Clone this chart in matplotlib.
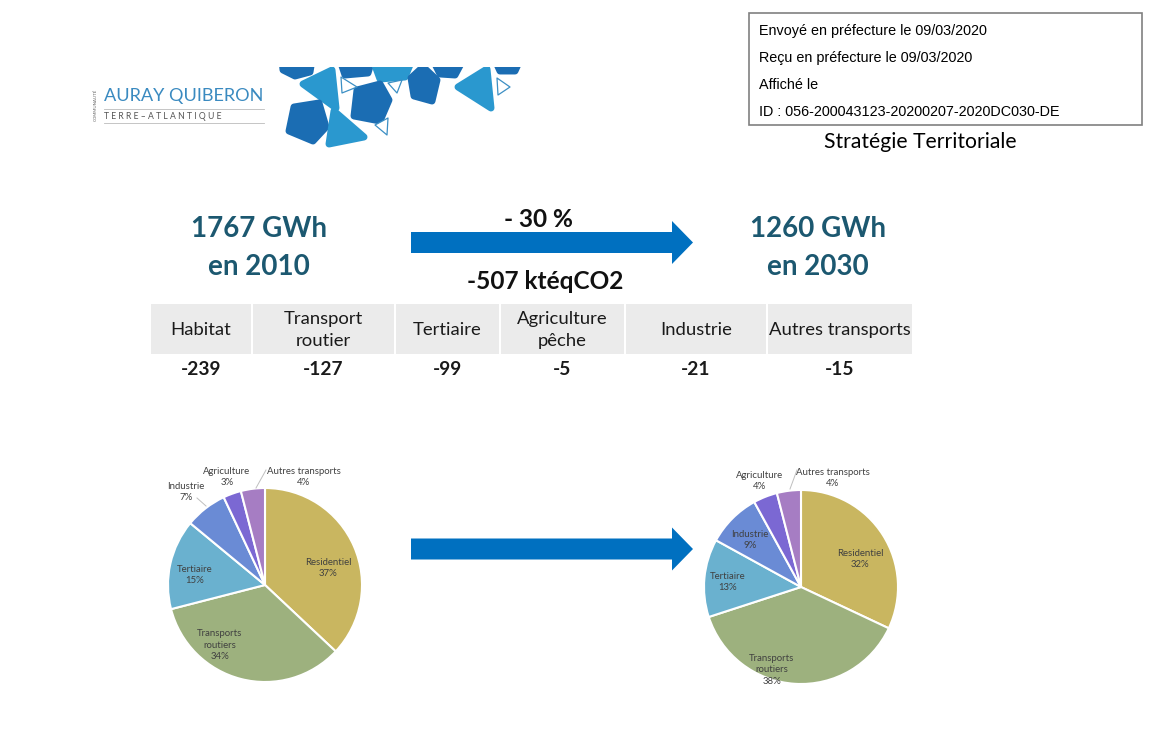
import numpy as np
import matplotlib
matplotlib.use("Agg")
import matplotlib.pyplot as plt
from matplotlib.patches import Polygon, Rectangle, FancyArrow

W, H = 1159, 729

# ---- data ----
sectors = ["Habitat", "Transport\nroutier", "Tertiaire", "Agriculture\npêche",
           "Industrie", "Autres transports"]
reductions = [-239, -127, -99, -5, -21, -15]

pie_labels = ["Residentiel", "Transports\nroutiers", "Tertiaire", "Industrie",
              "Agriculture", "Autres transports"]
share_2010 = [37, 34, 15, 7, 3, 4]
share_2030 = [32, 38, 13, 9, 4, 4]
pie_colors = ["#C9B660", "#9DB17E", "#6AB1CF", "#6A8BD5", "#7B68D3", "#A67DC3"]

conso_2010, conso_2030 = 1767, 1260
baisse_pct = -30
baisse_co2 = -507

TITLE = "#1C5870"
BLUE = "#0070C0"
FONT = "Lato"

fig = plt.figure(figsize=(W / 100, H / 100), dpi=100)
ax = fig.add_axes([0, 0, 1, 1])
ax.set_xlim(0, W)
ax.set_ylim(H, 0)
ax.axis("off")

# ---- logo ----
dark, light = "#1B6DB3", "#2A98CF"
shapes = [
    (dark, [(282, 60), (312, 60), (310, 72), (295, 76), (283, 70)]),
    (light, [(303, 84), (332, 70), (336, 108)]),
    (dark, [(340, 60), (372, 60), (368, 73), (345, 75)]),
    (light, [(373, 60), (412, 60), (405, 77), (380, 79)]),
    (dark, [(357, 90), (380, 84), (389, 100), (380, 121), (354, 116)]),
    (dark, [(411, 78), (423, 67), (437, 80), (432, 101), (414, 96)]),
    (dark, [(433, 60), (463, 60), (455, 75), (440, 74)]),
    (light, [(458, 87), (487, 69), (491, 108)]),
    (dark, [(495, 60), (520, 60), (515, 71), (500, 71)]),
    (dark, [(294, 107), (319, 103), (326, 127), (313, 141), (289, 131)]),
    (light, [(334, 111), (364, 137), (329, 144)]),
]
for col, pts in shapes:
    ax.add_patch(Polygon(pts, closed=True, facecolor=col, edgecolor=col,
                         linewidth=5, joinstyle="round"))
outlines = [
    [(341, 77), (357, 87), (342, 93)],
    [(388, 83), (402, 80), (397, 93)],
    [(497, 78), (510, 87), (498, 95)],
    [(375, 125), (388, 118), (387, 135)],
]
for pts in outlines:
    ax.add_patch(Polygon(pts, closed=True, facecolor="white", edgecolor="#3C8FC4",
                         linewidth=0.9, joinstyle="round"))
ax.add_patch(Rectangle((270, 0), 260, 67, facecolor="white", edgecolor="none", zorder=3))

ax.text(104, 96, "AURAY QUIBERON", fontsize=13.1, family=FONT,
        color="#3A8AC0", va="center", ha="left")
ax.plot([104, 264], [109, 109], color="#BBBBBB", lw=0.6)
ax.text(104, 116, "T E R R E – A T L A N T I Q U E", fontsize=6.2, family=FONT,
        color="#555555", va="center", ha="left")
ax.plot([104, 264], [123, 123], color="#BBBBBB", lw=0.6)
ax.text(96, 105, "COMMUNAUTÉ", fontsize=3.2, family=FONT, color="#666666",
        rotation=90, va="center", ha="center")

# ---- stamp box ----
ax.add_patch(Rectangle((749, 13), 393, 112, facecolor="white", edgecolor="#808080", lw=1.2))
stamp = ["Envoyé en préfecture le 09/03/2020", "Reçu en préfecture le 09/03/2020",
         "Affiché le", "ID : 056-200043123-20200207-2020DC030-DE"]
for i, line in enumerate(stamp):
    ax.text(759, 31 + 27 * i, line, fontsize=10.4, family="Liberation Sans",
            va="center", ha="left", color="black")
ax.text(920, 142, "Stratégie Territoriale", fontsize=15.2, family=FONT,
        va="center", ha="center", color="black")

# ---- headline ----
ax.text(259, 229, f"{conso_2010} GWh", fontsize=20, family=FONT, fontweight="bold",
        color=TITLE, ha="center", va="center")
ax.text(259, 267, "en 2010", fontsize=20, family=FONT, fontweight="bold",
        color=TITLE, ha="center", va="center")
ax.text(818, 229, f"{conso_2030} GWh", fontsize=20, family=FONT, fontweight="bold",
        color=TITLE, ha="center", va="center")
ax.text(818, 267, "en 2030", fontsize=20, family=FONT, fontweight="bold",
        color=TITLE, ha="center", va="center")
ax.text(538, 219, f"- {abs(baisse_pct)} %", fontsize=17.6, family=FONT, fontweight="bold",
        ha="center", va="center", color="#111111")
ax.text(545, 281, f"{baisse_co2} ktéqCO2", fontsize=17.6, family=FONT, fontweight="bold",
        ha="center", va="center", color="#111111")

for y in (242.5, 549):
    ax.add_patch(FancyArrow(411, y, 282, 0, width=21, head_width=43, head_length=21,
                            length_includes_head=True, color=BLUE, lw=0))

# ---- table ----
edges = [150, 252, 395, 500, 625, 767, 913]
for i, (name, val) in enumerate(zip(sectors, reductions)):
    x0, x1 = edges[i], edges[i + 1]
    ax.add_patch(Rectangle((x0 + 1, 304), x1 - x0 - 2, 50, facecolor="#EBEBEB",
                           edgecolor="none"))
    cx = (x0 + x1) / 2
    ax.text(cx, 330, name, fontsize=13.3, family=FONT, ha="center", va="center",
            color="#1A1A1A", linespacing=1.5)
    ax.text(cx, 369, str(val), fontsize=13.8, family=FONT, fontweight="bold",
            ha="center", va="center", color="#1A1A1A")


# ---- pies ----
def draw_pie(cx, cy, r, shares, label_px, leaders):
    pax = fig.add_axes([(cx - r) / W, (H - cy - r) / H, 2 * r / W, 2 * r / H])
    pax.pie(shares, colors=pie_colors, startangle=90, counterclock=False,
            wedgeprops=dict(edgecolor="white", linewidth=1.5))
    pax.set_xlim(-1, 1)
    pax.set_ylim(-1, 1)
    pax.axis("off")
    for name, s, (px, py) in zip(pie_labels, shares, label_px):
        pax.text((px - cx) / r, (cy - py) / r, f"{name}\n{s}%", fontsize=6.9,
                 family=FONT, color="#404040", ha="center", va="center",
                 linespacing=1.3, clip_on=False)
    for (x0, y0), (x1, y1) in leaders:
        pax.plot([(x0 - cx) / r, (x1 - cx) / r], [(cy - y0) / r, (cy - y1) / r],
                 color="#BFBFBF", lw=0.7, clip_on=False)


draw_pie(265, 585, 97, share_2010,
         [(328, 568), (220, 645), (195, 575), (186, 492), (227, 477), (304, 477)],
         [((197, 498), (206, 506)), ((266, 470), (256, 488))])
draw_pie(801, 587, 97, share_2030,
         [(860, 559), (772, 670), (728, 582), (750, 540), (760, 481), (833, 478)],
         [((797, 470), (790, 489))])

fig.savefig("out.png", dpi=100)
